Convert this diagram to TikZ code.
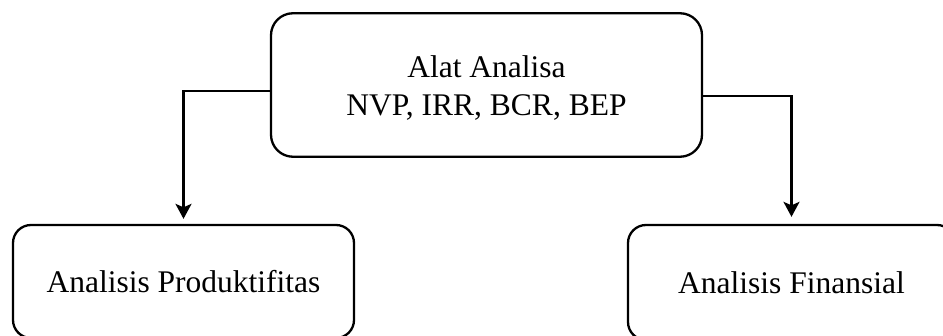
\documentclass[tikz,border=0pt]{standalone}
\usepackage{fontspec}
\setmainfont{Liberation Serif}
\usetikzlibrary{arrows.meta}
\begin{document}
\begin{tikzpicture}[x=1pt,y=-1pt,
  box/.style={draw=black, line width=2.3pt, align=center, inner sep=0pt,
    font=\fontsize{31.5}{38}\selectfont},
  conn/.style={draw=black, line width=2.3pt, -{Stealth[length=15pt,width=16pt,inset=3.5pt]}}]
\useasboundingbox (0,0) rectangle (943,336);
\clip (0,0) rectangle (943,336);
\fill[white] (0,0) rectangle (943,336);
\node[box, rounded corners=22pt, minimum width=431pt, minimum height=143.5pt, text depth=0pt] (top) at (486.5,85)
  {\raisebox{-2pt}{Alat Analisa}\\\raisebox{-2pt}{NVP, IRR, BCR, BEP}};
\node[box, rounded corners=18pt, minimum width=341pt, minimum height=113pt] (left) at (183.5,281.5)
  {\raisebox{-3pt}{Analisis Produktifitas}};
\node[box, rounded corners=18pt, minimum width=327pt, minimum height=115pt] (right) at (791.5,282.5)
  {\raisebox{-3pt}{Analisis Finansial}};
\draw[conn, shorten >=5pt] ([yshift=-6pt]top.west) -| (left.north);
\draw[conn, shorten >=7pt] ([yshift=-11pt]top.east) -| (right.north);
\end{tikzpicture}
\end{document}
